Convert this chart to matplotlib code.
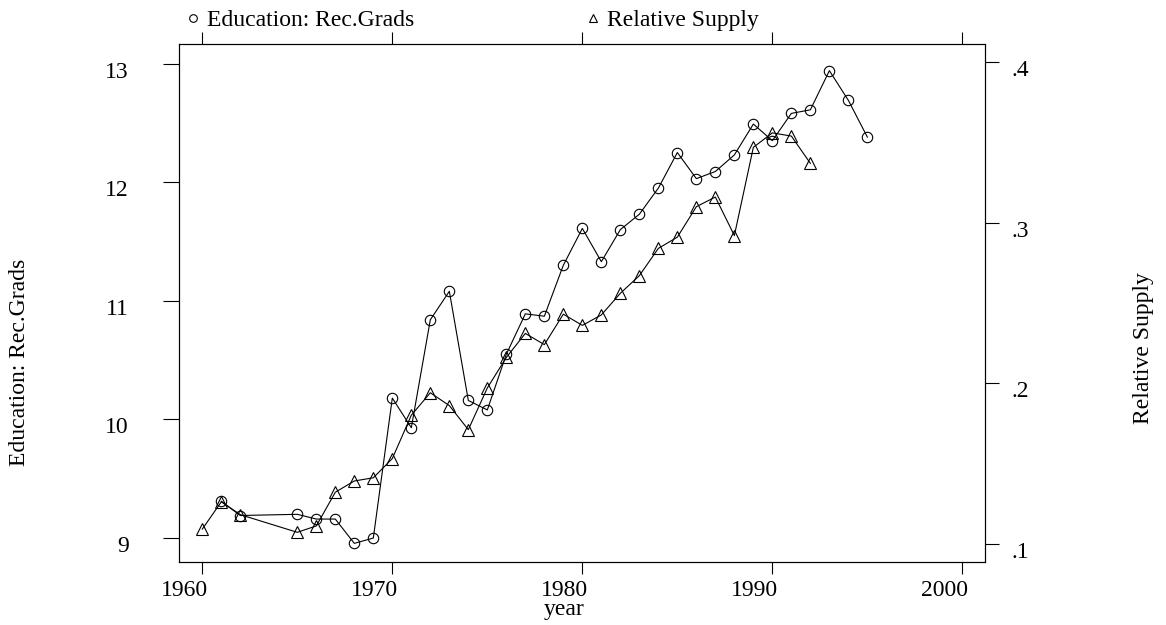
import matplotlib
matplotlib.use("Agg")
import matplotlib.pyplot as plt
import matplotlib.transforms as mtransforms
from matplotlib.lines import Line2D

plt.rcParams['font.family'] = ['Liberation Serif', 'DejaVu Serif']

# data
edu_years = [1961, 1962, 1965, 1966, 1967, 1968, 1969, 1970, 1971, 1972, 1973,
             1974, 1975, 1976, 1977, 1978, 1979, 1980, 1981, 1982, 1983, 1984,
             1985, 1986, 1987, 1988, 1989, 1990, 1991, 1992, 1993, 1994, 1995]
edu_grads = [9.31, 9.19, 9.20, 9.16, 9.16, 8.955, 9.00, 10.18, 9.93, 10.84, 11.08,
             10.16, 10.08, 10.55, 10.89, 10.87, 11.30, 11.61, 11.33, 11.60, 11.73, 11.95,
             12.25, 12.03, 12.09, 12.23, 12.49, 12.35, 12.58, 12.61, 12.94, 12.69, 12.38]

sup_years = [1960, 1961, 1962, 1965, 1966, 1967, 1968, 1969, 1970, 1971, 1972,
             1973, 1974, 1975, 1976, 1977, 1978, 1979, 1980, 1981, 1982, 1983,
             1984, 1985, 1986, 1987, 1988, 1989, 1990, 1991, 1992]
rel_supply = [0.109, 0.126, 0.118, 0.107, 0.111, 0.132, 0.139, 0.141, 0.153, 0.180, 0.194,
              0.186, 0.171, 0.197, 0.216, 0.231, 0.224, 0.243, 0.236, 0.2425, 0.256, 0.267,
              0.284, 0.291, 0.310, 0.316, 0.292, 0.347, 0.356, 0.354, 0.337]

x_ticks = [1960, 1970, 1980, 1990, 2000]
left_ticks = [9, 10, 11, 12, 13]
right_ticks = [0.1, 0.2, 0.3, 0.4]
right_labels = ['.1', '.2', '.3', '.4']

W, H = 1166, 625
fs = 17
fig = plt.figure(figsize=(W / 100, H / 100), dpi=100)
ax = fig.add_axes([179.3 / W, 1 - 562 / H, (985 - 179.3) / W, (562 - 44) / H])
ax2 = ax.twinx()

ax.plot(edu_years, edu_grads, color='black', lw=0.8, marker='o', ms=7.5,
        mfc='none', mec='black', mew=0.8)
ax2.plot(sup_years, rel_supply, color='black', lw=0.8, marker='^', ms=8,
         mfc='none', mec='black', mew=0.8)

ax.set_xlim(1958.79, 2001.19)
ax.set_ylim(8.798, 13.165)
ax2.set_ylim(0.0885, 0.4114)

ax.set_xticks(x_ticks, [str(t) for t in x_ticks])
ax.set_yticks(left_ticks, [str(t) for t in left_ticks])
ax2.set_yticks(right_ticks, right_labels)

ax.tick_params(axis='x', which='both', direction='out', length=8.6, width=0.8,
               top=True, bottom=True, labelsize=fs, pad=4)
ax.tick_params(axis='y', direction='out', length=11.5, width=0.8, labelsize=fs, pad=25)
ax2.tick_params(axis='y', direction='out', length=10, width=0.8, labelsize=fs, pad=9)

# x tick labels sit left of their ticks, y tick labels a little below theirs
xshift = mtransforms.ScaledTranslation(-18 / 100, 0, fig.dpi_scale_trans)
for lab in ax.get_xticklabels():
    lab.set_transform(lab.get_transform() + xshift)
yshift = mtransforms.ScaledTranslation(0, -6 / 100, fig.dpi_scale_trans)
for lab in ax.get_yticklabels() + ax2.get_yticklabels():
    lab.set_transform(lab.get_transform() + yshift)

for a in (ax, ax2):
    for s in a.spines.values():
        s.set_linewidth(0.8)
        s.set_color('black')

ax.set_xlabel('year', fontsize=fs)
ax.xaxis.set_label_coords((564 - 179.3) / (985 - 179.3), -(615 - 562) / (562 - 44))
ax.xaxis.label.set_va('baseline')
ax.set_ylabel('Education: Rec.Grads', fontsize=fs)
ax.yaxis.set_label_coords(-(179.3 - 20) / (985 - 179.3), (562 - 362) / (562 - 44))
ax.yaxis.label.set_va('center')
ax2.set_ylabel('Relative Supply', fontsize=fs)
ax2.yaxis.set_label_coords(1 + (1144 - 985) / (985 - 179.3), (562 - 348) / (562 - 44))
ax2.yaxis.label.set_va('center')

# legend strip above the plot
h1 = Line2D([], [], ls='none', marker='o', ms=5.5, mfc='none', mec='black', mew=0.8)
h2 = Line2D([], [], ls='none', marker='^', ms=6, mfc='none', mec='black', mew=0.8)
for h, lab, xh in [(h1, 'Education: Rec.Grads', 192.7), (h2, 'Relative Supply', 592.7)]:
    fig.legend([h], [lab], loc='center left', frameon=False, fontsize=fs,
               bbox_to_anchor=((xh - 7) / W, 1 - 20 / H), borderpad=0,
               borderaxespad=0, handlelength=0.6, handletextpad=0.3)

fig.savefig('out.png', dpi=100)
